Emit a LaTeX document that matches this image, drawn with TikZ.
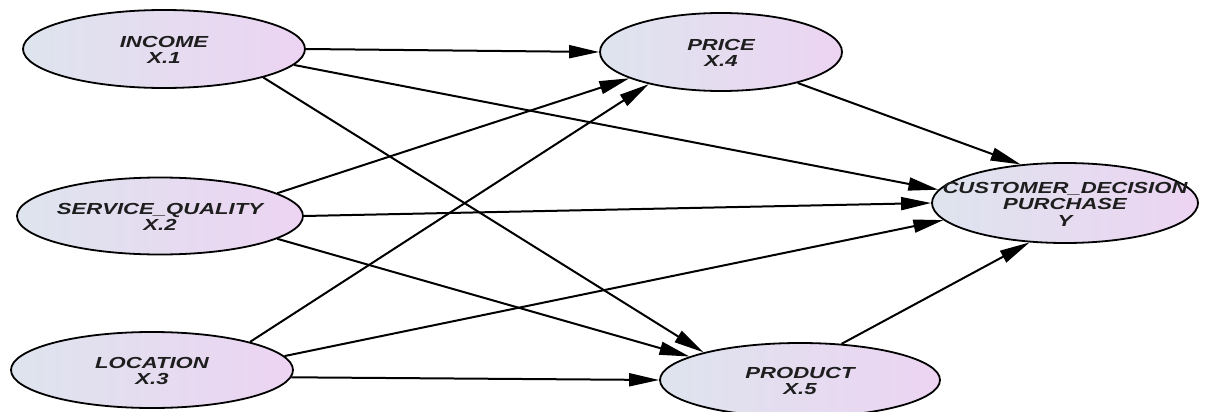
\documentclass[tikz,border=0pt]{standalone}
\usepackage{fontspec}
\newfontfamily\lblfont[FakeStretch=1.38]{Liberation Sans}
\usetikzlibrary{shapes.geometric,arrows.meta}
\definecolor{fillL}{RGB}{222,228,238}
\definecolor{fillR}{RGB}{236,212,242}
\definecolor{txt}{RGB}{30,30,30}
\tikzset{
  var/.style={ellipse, draw=black, line width=1.8pt, left color=fillL, right color=fillR,
    inner sep=0pt},
  lbl/.style={inner sep=0pt, align=center, text=txt,
    font=\lblfont\bfseries\itshape\fontsize{16}{16.5}\selectfont},
  conn/.style={draw=black, line width=2pt, -{Triangle[length=30pt,width=13pt]}}
}
\begin{document}
\begin{tikzpicture}[x=1pt,y=-1pt]
\useasboundingbox (0,0) rectangle (1213,412);
\node[var, minimum width=282pt, minimum height=78pt] (income) at (164,49) {};
\node[var, minimum width=286pt, minimum height=77pt] (service) at (160,216) {};
\node[var, minimum width=282pt, minimum height=76pt] (location) at (152,370) {};
\node[var, minimum width=242pt, minimum height=78pt] (price) at (721,52) {};
\node[var, minimum width=280pt, minimum height=74pt] (product) at (800,380) {};
\node[var, minimum width=266pt, minimum height=80pt] (customer) at (1065,203) {};
\node[lbl] (incomeT) at ([yshift=-1pt]income.center) {INCOME\\X.1};
\node[lbl] (serviceT) at ([yshift=-1pt]service.center) {SERVICE\_QUALITY\\X.2};
\node[lbl] (locationT) at ([yshift=-1pt]location.center) {LOCATION\\X.3};
\node[lbl] (priceT) at ([yshift=-1pt]price.center) {PRICE\\X.4};
\node[lbl] (productT) at ([yshift=-1pt]product.center) {PRODUCT\\X.5};
\node[lbl] (customerT) at ([yshift=-1pt]customer.center) {CUSTOMER\_DECISION\\PURCHASE\\Y};

\draw[conn] (income.0) -- (price.180);
\draw[conn] (income.-7) -- (customer.174);
\draw[conn] (income.-16.5) -- (product.164);
\draw[conn] (service.11) -- (price.196);
\draw[conn] (service.0) -- (customer.180);
\draw[conn] (service.-11.6) -- (product.168.4);
\draw[conn] (location.16) -- (price.204);
\draw[conn] (location.6.3) -- (customer.188);
\draw[conn] (location.-3) -- (product.180);
\draw[conn] (price.-22) -- (customer.139);
\draw[conn] (product.41) -- (customer.228);
\end{tikzpicture}
\end{document}
